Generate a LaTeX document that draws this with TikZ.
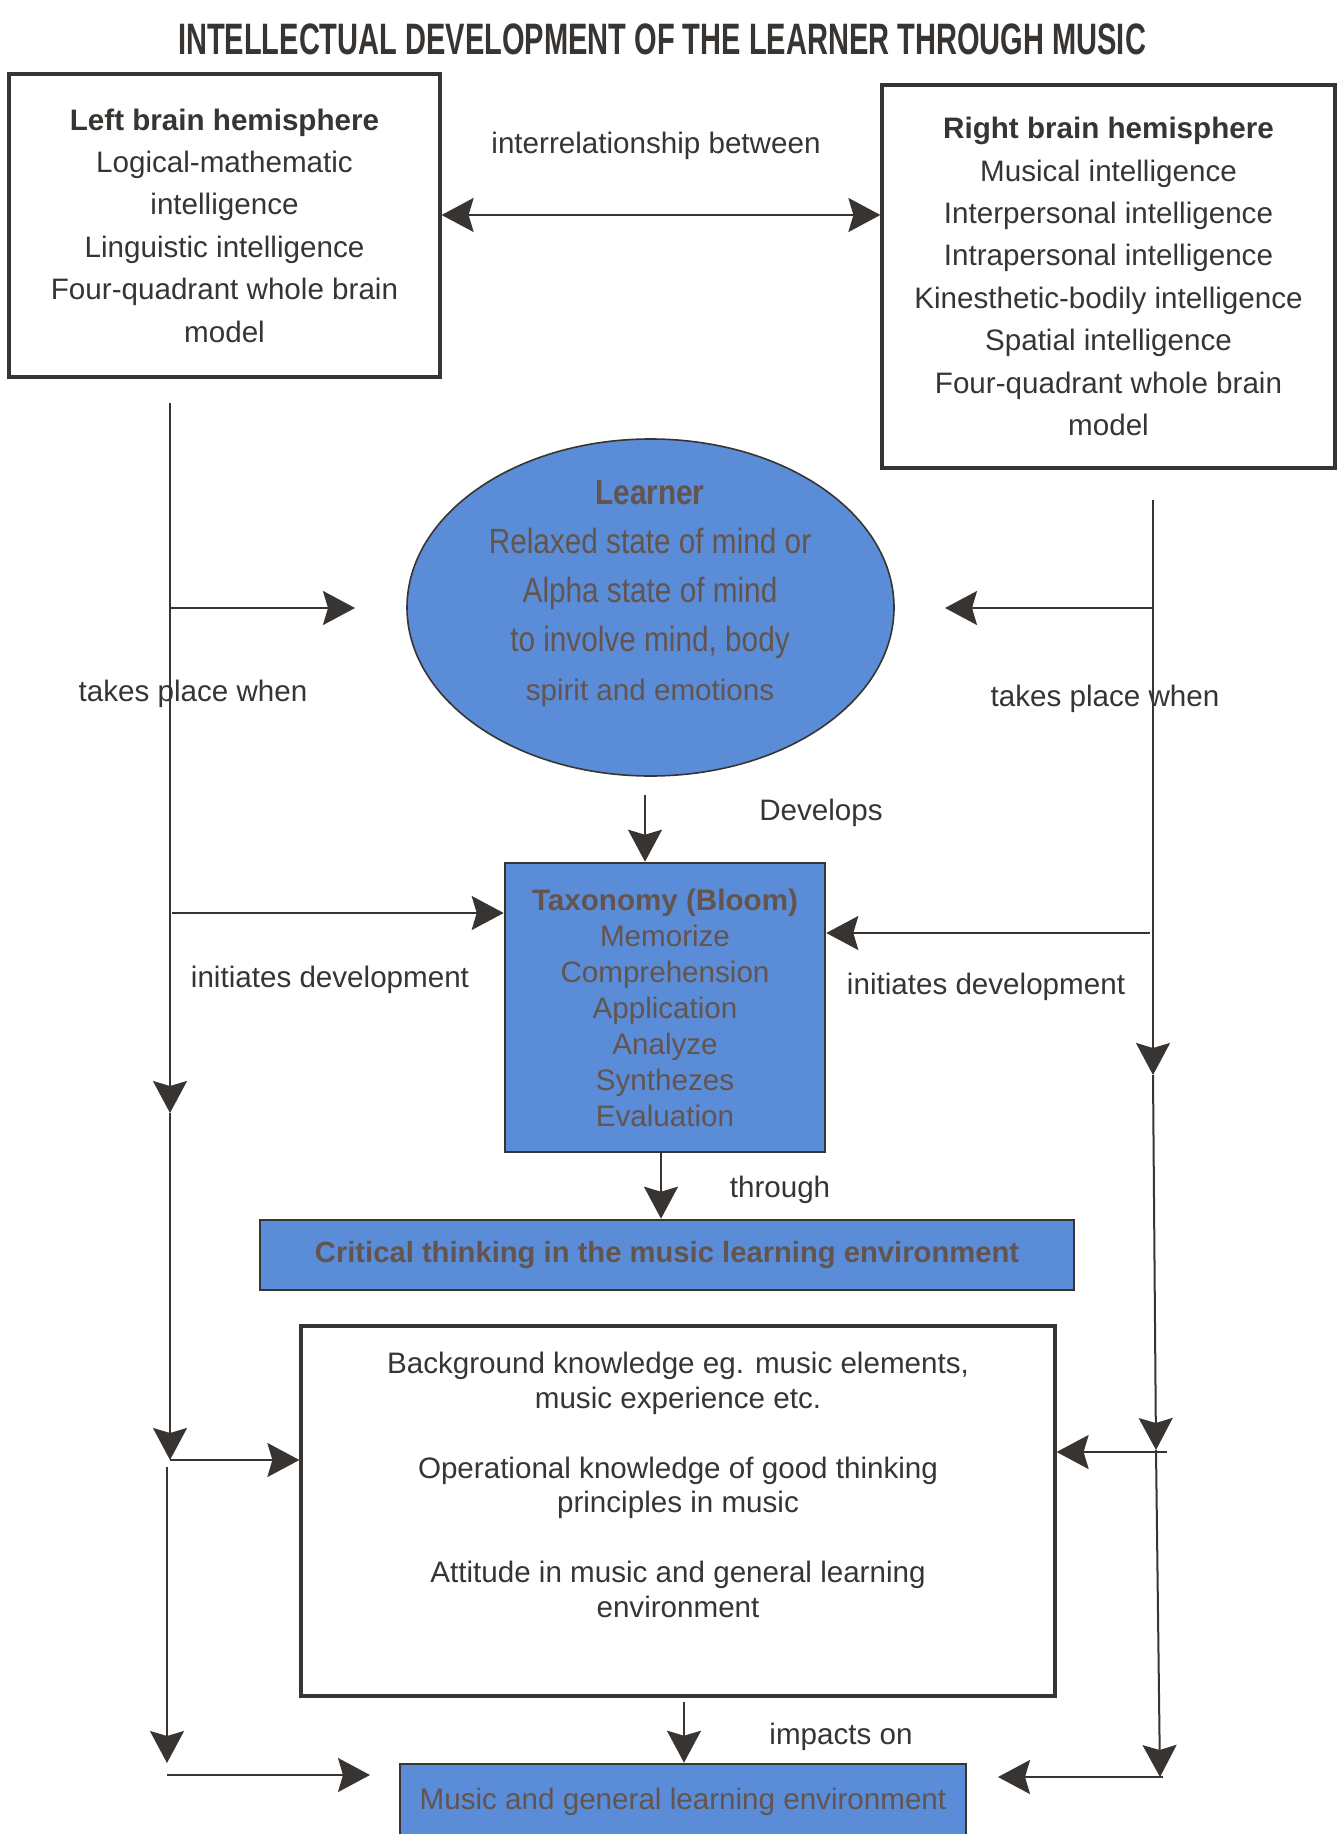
\documentclass[tikz,border=0pt]{standalone}
\usepackage{fontspec}
\setmainfont{Liberation Sans}
\newfontfamily\narrowfont[FakeStretch=0.85]{Liberation Sans}
\newfontfamily\titlefont[FakeStretch=0.66]{Liberation Sans}
\usepackage{tikz}
\usetikzlibrary{arrows.meta,shapes.geometric,positioning}
\definecolor{learnblue}{RGB}{90,140,215}
\definecolor{inkgray}{RGB}{55,52,50}
\definecolor{bluetext}{RGB}{100,84,78}

\begin{document}
\begin{tikzpicture}[x=0.5pt,y=-0.5pt,
  hemibox/.style={draw=inkgray, line width=1.6pt, align=center, inner sep=0pt,
    text=inkgray, font=\fontsize{14.8}{21.2}\selectfont},
  bluebox/.style={draw=inkgray, line width=1.3pt, fill=learnblue, text=bluetext,
    align=center, inner sep=0pt},
  learnerball/.style={ellipse, draw=inkgray, line width=0.8pt, fill=learnblue,
    inner sep=0pt, minimum width=243.5pt, minimum height=168.5pt},
  linktext/.style={text=inkgray, font=\fontsize{14.8}{18}\selectfont},
  oneway/.style={draw=inkgray, line width=1pt,
    -{Stealth[length=16pt,width=17pt,inset=2.5pt]}},
  twoway/.style={draw=inkgray, line width=1pt,
    {Stealth[length=16pt,width=17pt,inset=2.5pt]}-{Stealth[length=16pt,width=17pt,inset=2.5pt]}}
]
\useasboundingbox (0,0) rectangle (1337,1834);

% title
\node[text=inkgray, font=\titlefont\fontsize{22}{26}\selectfont\bfseries] (title) at (662,39)
  {INTELLECTUAL DEVELOPMENT OF THE LEARNER THROUGH MUSIC};

% the two hemispheres
\node[hemibox, minimum width=215.5pt, minimum height=151.5pt] (leftbox) at (224.5,225.5)
  {\textbf{Left brain hemisphere}\\ Logical-mathematic\\ intelligence\\
   Linguistic intelligence\\ Four-quadrant whole brain\\ model};
\node[hemibox, minimum width=226.5pt, minimum height=191.5pt] (rightbox) at (1108.5,276.5)
  {\textbf{Right brain hemisphere}\\ Musical intelligence\\ Interpersonal intelligence\\
   Intrapersonal intelligence\\ Kinesthetic-bodily intelligence\\ Spatial intelligence\\
   Four-quadrant whole brain\\ model};

% learner
\node[learnerball] (learner) at (650.5,607.5) {};
\node[text=bluetext, align=center, inner sep=0pt,
  font=\narrowfont\fontsize{17.5}{24.5}\selectfont] (learnertext) at (650,594)
  {\textbf{Learner}\\ Relaxed state of mind or\\ Alpha state of mind\\
   to involve mind, body\\ {\normalfont\fontsize{14.8}{24.5}\selectfont spirit and emotions}};

% taxonomy and the rest of the column
\node[bluebox, minimum width=160pt, minimum height=144.5pt,
  font=\fontsize{14.8}{18}\selectfont] (taxonomy) at (665,1007.5)
  {\textbf{Taxonomy (Bloom)}\\ Memorize\\ Comprehension\\ Application\\ Analyze\\
   Synthezes\\ Evaluation};
\node[bluebox, minimum width=407pt, minimum height=35pt,
  font=\fontsize{14.6}{18}\selectfont\bfseries] (critical) at (667,1255)
  {Critical thinking in the music learning environment};
\node[hemibox, minimum width=377pt, minimum height=185pt] (bgbox) at (678,1511) {};
\node[text=inkgray, align=center, inner sep=0pt, anchor=north,
  font=\fontsize{14.8}{17.25}\selectfont] (bgtext) at (678,1352)
  {Background knowledge eg. music elements,\\ music experience etc.\\[17.75pt]
   Operational knowledge of good thinking\\ principles in music\\[17.75pt]
   Attitude in music and general learning\\ environment};
\node[bluebox, minimum width=283pt, minimum height=38pt,
  font=\fontsize{14.8}{18}\selectfont] (musicenv) at (683,1802)
  {Music and general learning environment};

% link labels
\node[linktext] (interlabel) at (656,146) {interrelationship between};
\node[linktext] (lplace) at (193,694) {takes place when};
\node[linktext] (rplace) at (1105,699) {takes place when};
\node[linktext] (devlabel) at (821,813) {Develops};
\node[linktext] (linit) at (330,980) {initiates development};
\node[linktext] (rinit) at (986,987) {initiates development};
\node[linktext] (thrulabel) at (780,1190) {through};
\node[linktext] (impactlabel) at (841,1737) {impacts on};

% spine coordinates
\coordinate (inter) at (0,215);
\coordinate (ltop) at (170,403);
\coordinate (lmid) at (170,1113);
\coordinate (llow) at (170,1460);
\coordinate (lbase) at (167,1467);
\coordinate (lend) at (167,1763);
\coordinate (lhit) at (170,608);
\coordinate (lpoint) at (355,608);
\coordinate (ltax) at (172,913);
\coordinate (lfoot) at (167,1775);
\coordinate (lfootend) at (370,1775);
\coordinate (rtop) at (1153,500);
\coordinate (rmid) at (1153,1075);
\coordinate (rlow) at (1156,1450);
\coordinate (rend) at (1160,1777);
\coordinate (rhit) at (1153,608);
\coordinate (rpoint) at (945,608);
\coordinate (rtax) at (1150,933);
\coordinate (rknow) at (1167,1452);
\coordinate (rfoot) at (1163,1777);
\coordinate (rfootend) at (998,1777);
\coordinate (devstart) at (645,795);

% connectors
\draw[twoway] (leftbox.east |- inter) -- (rightbox.west |- inter);
\draw[oneway] (ltop) -- (lmid);
\draw[oneway] (lmid) -- (llow);
\draw[oneway] (lbase) -- (lend);
\draw[oneway] (lhit) -- (lpoint);
\draw[oneway] (ltax) -- (taxonomy.west |- ltax);
\draw[oneway] (llow) -- (bgbox.west |- llow);
\draw[oneway] (lfoot) -- (lfootend);
\draw[oneway] (rtop) -- (rmid);
\draw[oneway] (rmid) -- (rlow);
\draw[oneway] (rlow) -- (rend);
\draw[oneway] (rhit) -- (rpoint);
\draw[oneway] (rtax) -- (taxonomy.east |- rtax);
\draw[oneway] (rknow) -- (bgbox.east |- rknow);
\draw[oneway] (rfoot) -- (rfootend);
\draw[oneway] (devstart) -- (devstart |- taxonomy.north);
\draw[oneway] ([xshift=-2pt]taxonomy.south) -- ([xshift=-2pt]taxonomy.south |- critical.north);
\draw[oneway] ([xshift=3pt,yshift=-2pt]bgbox.south) -- ([xshift=3pt]bgbox.south |- musicenv.north);
\end{tikzpicture}
\end{document}
